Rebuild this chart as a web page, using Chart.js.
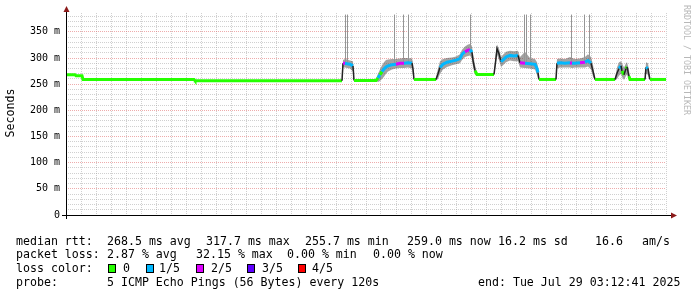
<!DOCTYPE html>
<html>
<head>
<meta charset="utf-8">
<script src="https://cdn.jsdelivr.net/npm/chart.js@4"></script>
<style>
  body { margin: 0; background: #fff; }
  canvas { display: block; }
</style>
</head>
<body>
<canvas id="grafico" width="697" height="297"></canvas>
<script>
// hours since 19 Jul 00:00
const medTime = [3.2, 6.8, 7.2, 9.6, 10.0, 54.4, 54.8, 80.0, 113.6,
  114.0, 114.8, 115.6, 116.8, 118.0, 118.4, 127.2, 128.0, 128.8, 129.6,
  130.4, 131.2, 132.0, 133.6, 135.2, 136.8, 138.4, 140.0, 141.6, 142.0,
  142.4, 151.2, 152.0, 152.8, 154.0, 155.6, 157.6, 159.2, 160.8, 161.6,
  162.8, 164.0, 164.8, 165.6, 166.0, 166.8, 167.6, 174.4, 175.2, 175.6,
  176.4, 177.2, 178.0, 179.2, 180.8, 182.4, 184.0, 184.8, 186.8, 188.8,
  190.8, 191.6, 192.0, 192.4, 199.2, 199.6, 200.8, 202.8, 204.8, 205.6,
  206.8, 208.8, 210.8, 212.0, 213.2, 214.0, 214.8, 222.8, 223.6, 224.4,
  225.2, 225.6, 226.4, 227.2, 227.6, 228.4, 228.8, 234.8, 235.2, 236.0,
  236.4, 236.8, 243.2];
const medRtt = [268, 268, 266, 266, 259, 259, 256.5, 256.5, 256.5,
  290, 290, 289, 288, 285, 257, 257, 262, 268, 274,
  279, 283, 285, 287, 288, 290, 290, 291, 290, 279,
  259, 259, 270, 282, 288, 292, 294, 296, 299, 307,
  312, 315, 316, 311, 295, 276, 268.5, 268.5, 300, 318,
  308, 293, 296, 302, 305, 304, 305, 291, 290, 289,
  288, 280, 272, 259, 259, 290, 291, 290, 291, 290,
  290, 291, 292, 295, 290, 275, 259, 259, 271, 280,
  285, 275, 268, 280, 283, 265, 259, 259, 282, 280,
  268, 259, 259];
const medLoss = [0, 0, 0, 0, 0, 0, 0, 0, 0,
  2, 2, 1, 1, 1, 0, 0, 0, 1, 0,
  1, 1, 1, 1, 1, 2, 2, 1, 1, 1,
  0, 0, 0, 1, 1, 1, 1, 1, 1, 1,
  1, 2, 2, 1, 0, 0, 0, 0, 0, 1,
  1, 1, 1, 1, 1, 1, 1, 1, 2, 1,
  1, 1, 1, 0, 0, 1, 1, 1, 1, 2,
  1, 1, 2, 1, 1, 0, 0, 0, 0, 1,
  1, 0, 0, 1, 0, 0, 0, 0, 1, 1,
  0, 0, 0];
const smokeMin = [268, 268, 266, 266, 259, 259, 256.5, 256.5, 256,
  282, 282, 281, 280, 274, 257, 256, 254, 256, 260,
  264, 270, 274, 278, 280, 281, 281, 282, 280, 266,
  258, 257, 260, 270, 278, 283, 286, 288, 290, 296,
  302, 304, 305, 298, 283, 268, 267, 267, 288, 306,
  296, 283, 286, 292, 295, 294, 294, 282, 281, 280,
  278, 268, 260, 258, 258, 280, 282, 282, 282, 281,
  282, 282, 282, 284, 278, 264, 258, 257, 260, 266,
  270, 264, 258, 266, 268, 258, 258, 258, 270, 268,
  260, 258, 259];
const smokeMax = [268, 268, 266, 266, 259, 259, 256.5, 256.5, 258,
  296, 298, 297, 295, 294, 257, 260, 270, 278, 286,
  292, 296, 297, 298, 298, 299, 300, 300, 299, 292,
  261, 262, 280, 294, 298, 300, 301, 303, 307, 316,
  322, 326, 327, 322, 308, 287, 271, 271, 312, 326,
  318, 302, 306, 312, 314, 313, 314, 302, 312, 300,
  298, 292, 284, 261, 262, 298, 299, 298, 302, 300,
  298, 299, 302, 307, 302, 287, 261, 262, 282, 292,
  294, 290, 282, 290, 292, 277, 261, 262, 292, 290,
  278, 261, 259];

// single pings far above the scale
const spikeTime = [115.0, 115.8, 134.6, 138.2, 140.2, 165.0, 186.6, 187.4, 189.0, 205.4, 210.6, 212.6];
const spikeBase = [290, 289, 288, 290, 291, 316, 290, 290, 289, 290, 292, 295];
const spikeTop = [383, 383, 383, 383, 383, 383, 383, 383, 383, 383, 383, 383];

const dayLabels = ['19 Jul', '20 Jul', '21 Jul', '22 Jul', '23 Jul', '24 Jul', '25 Jul', '26 Jul', '27 Jul', '28 Jul'];
const lossColors = ['#26ff00', '#00b8ff', '#dd00ff', '#5e00ff', '#ff0000'];
const lossLabels = ['0', '1/5', '2/5', '3/5', '4/5'];

const mono = 'DejaVu Sans Mono';
const corGrade = 'rgba(150,150,150,0.45)';
const corGradeMaior = 'rgba(222,90,90,0.5)';

var pontosMediana = medTime.map((t, i) => ({x: t, y: medRtt[i]}));
var pontosMin = medTime.map((t, i) => ({x: t, y: smokeMin[i]}));
var pontosMax = medTime.map((t, i) => ({x: t, y: smokeMax[i]}));
var pontosPico = [];
for (var i = 0; i < spikeTime.length; i++) {
  pontosPico.push({x: spikeTime[i], y: spikeBase[i]});
  pontosPico.push({x: spikeTime[i], y: spikeTop[i]});
  pontosPico.push({x: spikeTime[i], y: null});
}

function salto(ctx) {
  return Math.abs(ctx.p1.parsed.y - ctx.p0.parsed.y) > 8;
}

const textos = {
  id: 'textos',
  afterDraw(chart) {
    const c = chart.ctx;
    c.save();
    // axes
    c.strokeStyle = '#000';
    c.lineWidth = 1;
    c.beginPath();
    c.moveTo(62, 215.5); c.lineTo(672, 215.5);
    c.moveTo(66.5, 219); c.lineTo(66.5, 11);
    c.stroke();
    c.fillStyle = '#8b1a1a';
    c.beginPath();
    c.moveTo(677, 215.5); c.lineTo(671, 212.5); c.lineTo(671, 218.5); c.closePath();
    c.fill();
    c.beginPath();
    c.moveTo(66.5, 6); c.lineTo(63.5, 12); c.lineTo(69.5, 12); c.closePath();
    c.fill();

    // y title
    c.fillStyle = '#000';
    c.font = '11.6px "' + mono + '"';
    c.textAlign = 'center';
    c.textBaseline = 'middle';
    c.save();
    c.translate(11, 113);
    c.rotate(-Math.PI / 2);
    c.fillText('Seconds', 0, 0);
    c.restore();

    // watermark
    c.save();
    c.fillStyle = '#b8b8b8';
    c.font = '8.3px "' + mono + '"';
    c.translate(686, 60);
    c.rotate(Math.PI / 2);
    c.fillText('RRDTOOL / TOBI OETIKER', 0, 0);
    c.restore();

    // legend lines
    c.textAlign = 'left';
    c.font = '11.6px "' + mono + '"';
    const linhas = [
      [241.5, [[16, 'median rtt:'], [107, '268.5 ms avg'], [206, '317.7 ms max'], [305, '255.7 ms min'],
               [407, '259.0 ms now'], [498, '16.2 ms sd'], [595, '16.6'], [642, 'am/s']]],
      [255.3, [[16, 'packet loss:'], [107, '2.87 % avg'], [196, '32.15 % max'], [287, '0.00 % min'], [373, '0.00 % now']]],
      [269, [[16, 'loss color:']]],
      [282.7, [[16, 'probe:'], [107, '5 ICMP Echo Pings (56 Bytes) every 120s'], [478, 'end: Tue Jul 29 03:12:41 2025']]]
    ];
    linhas.forEach(l => l[1].forEach(p => c.fillText(p[1], p[0], l[0])));

    const caixaX = [108, 146, 196, 247, 298];
    const textoX = [123, 159, 211, 262, 312];
    for (var k = 0; k < lossColors.length; k++) {
      c.fillStyle = lossColors[k];
      c.fillRect(caixaX[k], 264, 8, 9);
      c.strokeStyle = '#000';
      c.strokeRect(caixaX[k] + 0.5, 264.5, 7, 8);
      c.fillStyle = '#000';
      c.fillText(lossLabels[k], textoX[k], 269);
    }
    c.restore();
  }
};

const config = {
  type: 'line',
  data: {
    datasets: [
      {
        data: pontosMediana,
        borderWidth: 3,
        pointRadius: 0,
        fill: false,
        borderCapStyle: 'butt',
        segment: {
          borderColor: ctx => salto(ctx) ? '#222' : lossColors[medLoss[ctx.p1DataIndex]],
          borderWidth: ctx => salto(ctx) ? 1.5 : 3
        }
      },
      {
        data: pontosPico,
        borderColor: '#959595',
        borderWidth: 1,
        pointRadius: 0,
        spanGaps: false,
        fill: false
      },
      {
        data: pontosMax,
        borderWidth: 0,
        pointRadius: 0,
        backgroundColor: 'rgba(70,70,70,0.5)',
        fill: '+1'
      },
      {
        data: pontosMin,
        borderWidth: 0,
        pointRadius: 0,
        fill: false
      }
    ]
  },
  options: {
    responsive: false,
    animation: false,
    layout: {padding: {top: 13, right: 31, left: 0, bottom: 0}},
    plugins: {legend: {display: false}, tooltip: {enabled: false}},
    scales: {
      x: {
        type: 'linear',
        min: 3.2,
        max: 243.2,
        afterFit: s => { s.height = 82; },
        ticks: {
          stepSize: 6, maxTicksLimit: 100, includeBounds: false, autoSkip: false,
          maxRotation: 0, padding: 4, color: '#000',
          font: {family: mono, size: 10},
          callback: v => v % 24 === 12 ? dayLabels[Math.floor(v / 24)] : ''
        },
        grid: {
          drawTicks: false,
          color: ctx => ctx.tick && ctx.tick.value % 24 === 0 ? corGradeMaior : corGrade
        },
        border: {display: false, dash: [1, 1]}
      },
      y: {
        min: 0,
        max: 386,
        afterFit: s => { s.width = 66; },
        ticks: {
          stepSize: 10, maxTicksLimit: 100, includeBounds: false, autoSkip: false,
          padding: 6, color: '#000',
          font: {family: mono, size: 10},
          callback: v => v % 50 === 0 ? (v === 0 ? '0' : v + ' m') : ''
        },
        grid: {
          drawTicks: false,
          color: ctx => ctx.tick && ctx.tick.value % 50 === 0 ? corGradeMaior : corGrade
        },
        border: {display: false, dash: [1, 1]}
      }
    }
  },
  plugins: [textos]
};

const meuGrafico = new Chart(document.getElementById('grafico'), config);
</script>
</body>
</html>
